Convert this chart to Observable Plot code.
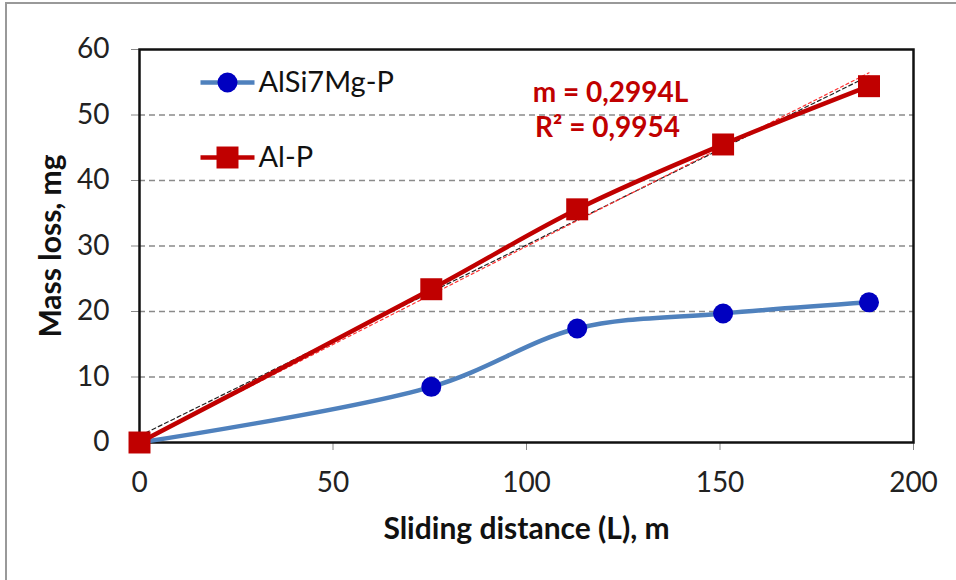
<!DOCTYPE html>
<html>
<head>
<meta charset="utf-8">
<script src="https://cdn.jsdelivr.net/npm/d3@7"></script>
<script src="https://cdn.jsdelivr.net/npm/@observablehq/plot@0.6"></script>
<style>
  html, body { margin: 0; padding: 0; background: #fff; }
  #wrap { position: relative; width: 956px; height: 580px; overflow: hidden; }
  #border { position: absolute; left: 5px; top: 2px; width: 980px; height: 620px; border: 2px solid #999; box-sizing: border-box; pointer-events: none; }
  #chart svg { display: block; }
</style>
</head>
<body>
<div id="wrap"><div id="chart"></div><div id="border"></div></div>
<script>
// ---- data ----
const distance = [0, 75.4, 113.1, 150.8, 188.5];
const alsi7mg = [0, 8.5, 17.4, 19.7, 21.4];
const alp = [0, 23.4, 35.6, 45.5, 54.4];
const seriesNames = ["AlSi7Mg-P", "Al-P"];
const slope = 0.2994;
const r2 = "0,9954";
const xTicks = [0, 50, 100, 150, 200];
const yTicks = [0, 10, 20, 30, 40, 50, 60];
const xLabel = "Sliding distance (L), m";
const yLabel = "Mass loss, mg";

const rowsA = distance.map((d, i) => ({x: d, y: alsi7mg[i]}));
const rowsB = distance.map((d, i) => ({x: d, y: alp[i]}));
const trend = [distance[0], distance[distance.length - 1]].map(d => ({x: d, y: slope * d}));

const blueLine = "#4F81BD", blueDot = "#0000C0", red = "#C00000";
const font = "Lato, 'Open Sans', sans-serif";

const hline = {draw(ctx) { ctx.moveTo(-27, 0); ctx.lineTo(27, 0); }};

const legend = [
  {name: seriesNames[0], line: blueLine, mark: blueDot, symbol: "circle", r: 10, dy: 33},
  {name: seriesNames[1], line: red, mark: red, symbol: "square", r: 12.4, dy: 108}
];

const plot = Plot.plot({
  width: 956,
  height: 580,
  marginLeft: 139,
  marginRight: 43,
  marginTop: 49,
  marginBottom: 138,
  style: {fontFamily: font, fontSize: "28px", color: "#222", background: "white"},
  x: {domain: [0, 200]},
  y: {domain: [0, 60]},
  marks: [
    Plot.ruleY(yTicks.filter(t => t > 0 && t < 60), {stroke: "#8a8a8a", strokeWidth: 1.3, strokeDasharray: "6,4"}),
    Plot.axisX({ticks: xTicks, tickSize: 8, tickPadding: 22, stroke: "#888", fontSize: 28, label: null}),
    Plot.axisY({ticks: yTicks, tickSize: 8, tickPadding: 22, stroke: "#888", fontSize: 28, label: null}),
    Plot.text([xLabel], {frameAnchor: "bottom", dy: 87, lineAnchor: "middle", fontWeight: "bold", fontSize: 30, fill: "#111"}),
    Plot.text([yLabel], {frameAnchor: "left", dx: -88, rotate: -90, textAnchor: "middle", lineAnchor: "middle", fontWeight: "bold", fontSize: 30, fill: "#111"}),
    Plot.frame({stroke: "#111", strokeWidth: 2.5}),
    // trendlines
    Plot.linearRegressionY(rowsB, {x: "x", y: "y", ci: 0, stroke: "#222", strokeWidth: 1.2, strokeDasharray: "4,3"}),
    Plot.line(trend, {x: "x", y: "y", stroke: "#ff3333", strokeWidth: 1.2, strokeDasharray: "3,3"}),
    // series
    Plot.line(rowsA, {x: "x", y: "y", curve: "catmull-rom", stroke: blueLine, strokeWidth: 4.5}),
    Plot.line(rowsB, {x: "x", y: "y", curve: "catmull-rom", stroke: red, strokeWidth: 4.5}),
    Plot.dot(rowsA, {x: "x", y: "y", r: 10, fill: blueDot, stroke: "none", symbol: "circle"}),
    Plot.dot(rowsB, {x: "x", y: "y", r: 12.4, fill: red, stroke: "none", symbol: "square"}),
    // equation annotation
    Plot.text([`m = ${String(slope).replace(".", ",")}L`], {frameAnchor: "top-left", dx: 471, dy: 44, textAnchor: "middle", lineAnchor: "middle", fill: red, fontWeight: "bold", fontSize: 28}),
    Plot.text([`R² = ${r2}`], {frameAnchor: "top-left", dx: 468, dy: 79, textAnchor: "middle", lineAnchor: "middle", fill: red, fontWeight: "bold", fontSize: 28}),
    // legend
    ...legend.flatMap(l => [
      Plot.dot([l], {frameAnchor: "top-left", dx: 88, dy: l.dy, symbol: hline, stroke: l.line, strokeWidth: 4.5, fill: "none"}),
      Plot.dot([l], {frameAnchor: "top-left", dx: 88, dy: l.dy, symbol: l.symbol, r: l.r, fill: l.mark, stroke: "none"}),
      Plot.text([l], {frameAnchor: "top-left", dx: 119, dy: l.dy, text: "name", textAnchor: "start", lineAnchor: "middle", fontSize: 29, fill: "#111"})
    ])
  ]
});
document.getElementById("chart").appendChild(plot);
</script>
</body>
</html>
